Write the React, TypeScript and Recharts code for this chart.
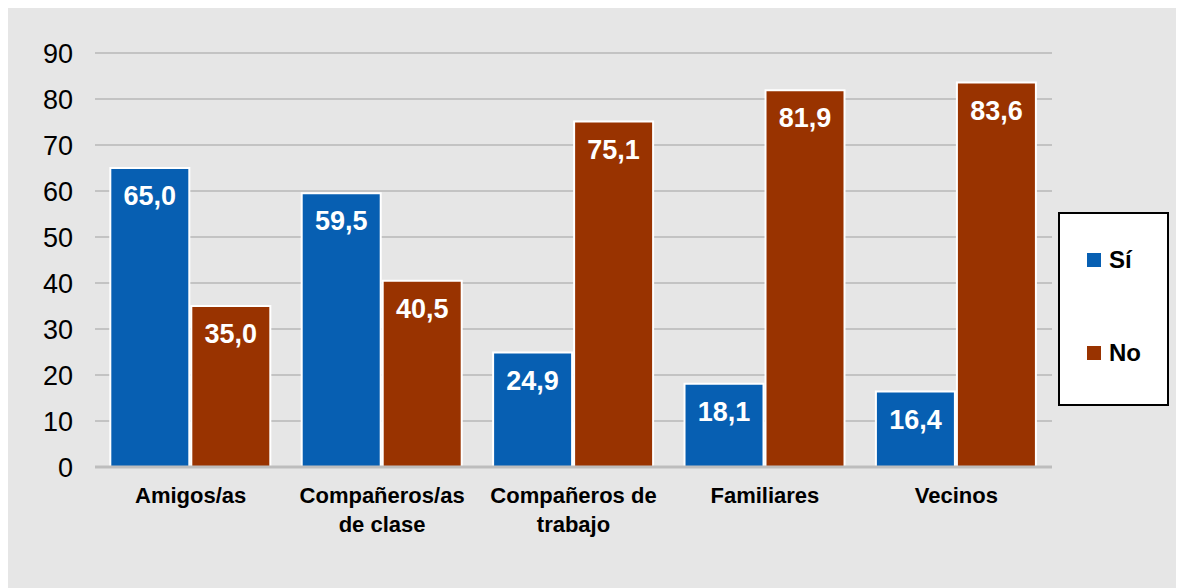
import React from "react";
import { BarChart, Bar, XAxis, YAxis, CartesianGrid, Legend, LabelList } from "recharts";

const categories = ["Amigos/as", "Compañeros/as de clase", "Compañeros de trabajo", "Familiares", "Vecinos"];
const categoryLines = [["Amigos/as"], ["Compañeros/as", "de clase"], ["Compañeros de", "trabajo"], ["Familiares"], ["Vecinos"]];
const siValues = [65.0, 59.5, 24.9, 18.1, 16.4];
const noValues = [35.0, 40.5, 75.1, 81.9, 83.6];
const yTicks = [0, 10, 20, 30, 40, 50, 60, 70, 80, 90];

const BLUE = "#075fb2";
const RED = "#993300";
const FONT = "'Liberation Sans', Arial, Helvetica, sans-serif";

const data = categories.map((c, i) => ({ name: c, idx: i, si: siValues[i], no: noValues[i] }));

const fmt = (v: any) => Number(v).toFixed(1).replace(".", ",");

const XTick = (props: any) => {
  const { x, y, payload } = props;
  const lines = categoryLines[payload.index] || [payload.value];
  return (
    <g>
      {lines.map((l: string, i: number) => (
        <text key={i} x={x} y={y + 28 + i * 29} textAnchor="middle" fontFamily={FONT} fontWeight="bold" fontSize={22} fill="#000">
          {l}
        </text>
      ))}
    </g>
  );
};

const LegendBox = () => (
  <div style={{ width: 107, height: 190, background: "#fff", border: "2px solid #000", fontFamily: FONT, position: "relative", boxSizing: "content-box" }}>
    <div style={{ position: "absolute", left: 27, top: 32, height: 28, display: "flex", alignItems: "center" }}>
      <span style={{ width: 14, height: 14, background: BLUE, display: "inline-block", marginRight: 8 }} />
      <span style={{ fontWeight: "bold", fontSize: 24, lineHeight: "28px" }}>Sí</span>
    </div>
    <div style={{ position: "absolute", left: 27, top: 125, height: 28, display: "flex", alignItems: "center" }}>
      <span style={{ width: 14, height: 14, background: RED, display: "inline-block", marginRight: 8 }} />
      <span style={{ fontWeight: "bold", fontSize: 24, lineHeight: "28px" }}>No</span>
    </div>
  </div>
);

export default function App() {
  return (
    <div style={{ width: 1176, height: 580, background: "#e6e6e6" }}>
      <BarChart width={1176} height={580} data={data} margin={{ top: 45, right: 22, bottom: 0, left: 0 }} barCategoryGap="8%" barGap={2}>
        <CartesianGrid vertical={false} stroke="#c3c3c3" strokeWidth={2} />
        <XAxis dataKey="name" tick={<XTick />} tickLine={false} axisLine={{ stroke: "#bdbdbd", strokeWidth: 3 }} height={121} interval={0} />
        <YAxis domain={[0, 90]} ticks={yTicks} width={87} axisLine={false} tickLine={false} tickSize={0} tickMargin={22}
          tick={{ fontFamily: FONT, fontSize: 27, fill: "#000" }} />
        <Legend content={<LegendBox />} layout="vertical" align="right" verticalAlign="top" wrapperStyle={{ left: 1050, top: 204, width: 110 }} />
        <Bar dataKey="si" name="Sí" fill={BLUE} stroke="#fff" strokeWidth={2} isAnimationActive={false}>
          <LabelList dataKey="si" position="insideTop" offset={18} formatter={fmt} fill="#fff" fontFamily={FONT} fontWeight="bold" fontSize={27} />
        </Bar>
        <Bar dataKey="no" name="No" fill={RED} stroke="#fff" strokeWidth={2} isAnimationActive={false}>
          <LabelList dataKey="no" position="insideTop" offset={18} formatter={fmt} fill="#fff" fontFamily={FONT} fontWeight="bold" fontSize={27} />
        </Bar>
      </BarChart>
    </div>
  );
}
